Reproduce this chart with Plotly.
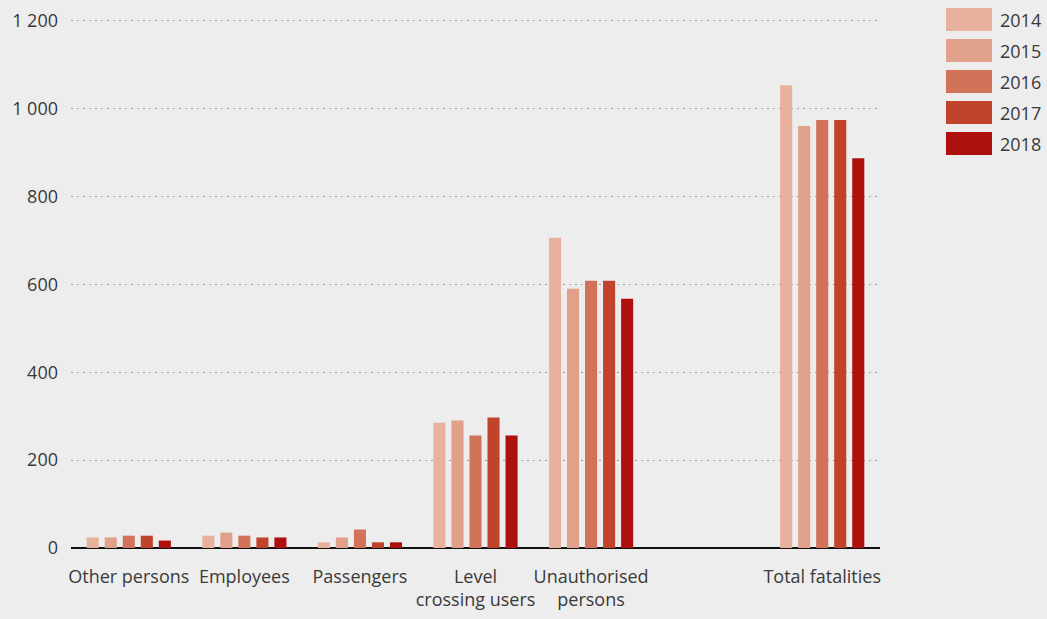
import plotly.graph_objects as go

categories = ["Other persons", "Employees", "Passengers", "Level<br>crossing users",
              "Unauthorised<br>persons", " ", "Total fatalities"]
years = ["2014", "2015", "2016", "2017", "2018"]
values = {
    "2014": [24, 28, 13, 285, 706, None, 1053],
    "2015": [24, 35, 24, 290, 590, None, 960],
    "2016": [28, 28, 42, 256, 608, None, 974],
    "2017": [28, 24, 13, 297, 608, None, 974],
    "2018": [17, 24, 13, 256, 567, None, 887],
}
colors = ["#E8B19C", "#E0A08A", "#D27258", "#C0442C", "#AE100E"]
y_ticks = [0, 200, 400, 600, 800, 1000, 1200]
y_tick_text = ["0", "200", "400", "600", "800", "1 000", "1 200"]

W, H = 1047, 619
L, R, T, B = 71, 167, 18, 71
pw, ph = W - L - R, H - T - B

fig = go.Figure()
for yr, col in zip(years, colors):
    fig.add_trace(go.Bar(name=yr, x=categories, y=values[yr], marker_color=col,
                         marker_line_width=0, showlegend=False))

# custom legend (large swatches) in pixel-derived paper coordinates
shapes, annos = [], []
for i, (yr, col) in enumerate(zip(years, colors)):
    top = 8 + 31 * i
    shapes.append(dict(type="rect", xref="paper", yref="paper",
                       x0=(946 - L) / pw, x1=(992 - L) / pw,
                       y0=(H - B - (top + 23)) / ph, y1=(H - B - top) / ph,
                       fillcolor=col, line_width=0))
    annos.append(dict(xref="paper", yref="paper", x=(998 - L) / pw,
                      y=(H - B - (top + 11.5)) / ph, text=yr, showarrow=False,
                      xanchor="left", yanchor="middle", font=dict(size=18, color="#3a3a3a")))

fig.update_layout(
    width=W, height=H,
    paper_bgcolor="#EDEDED", plot_bgcolor="#EDEDED",
    margin=dict(l=L, r=R, t=T, b=B, autoexpand=False),
    barmode="group", bargap=0.22, bargroupgap=0.33,
    font=dict(family="Open Sans", size=18, color="#3a3a3a"),
    shapes=shapes, annotations=annos,
    xaxis=dict(type="category", showgrid=False, showline=False, ticks="",
               tickangle=0, automargin=False,
               ticklabelstandoff=16, tickfont=dict(size=18, color="#3a3a3a")),
    yaxis=dict(range=[0, 1206], tickvals=y_ticks, ticktext=y_tick_text, automargin=False,
               showgrid=True, gridcolor="#A0A0A0", griddash="2px,4px", gridwidth=1,
               zeroline=True, zerolinecolor="#111111", zerolinewidth=1.5,
               ticks="", ticklabelstandoff=12, tickfont=dict(size=18, color="#3a3a3a")),
)
fig.write_html("out.html", config={"displayModeBar": False},
               post_script="document.body.style.margin='0';")
